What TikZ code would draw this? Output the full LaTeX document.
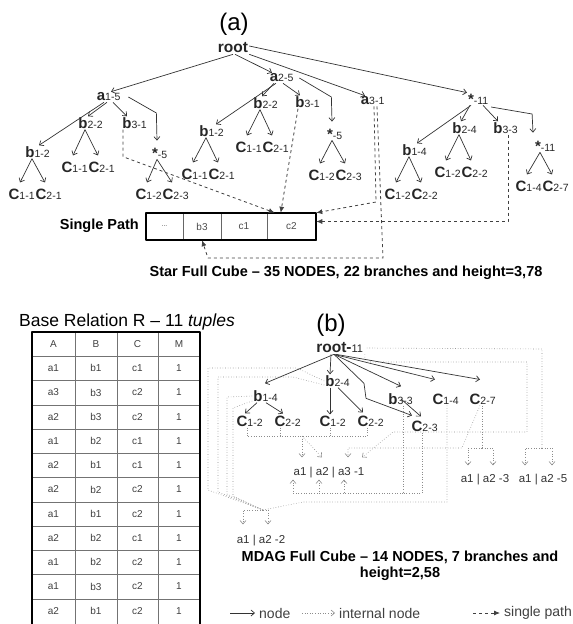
\documentclass[tikz,border=0pt]{standalone}
\usepackage{fontspec}
\setmainfont{Liberation Sans}
\usetikzlibrary{arrows.meta}
\newcommand{\fsz}[1]{\fontsize{#1}{#1}\selectfont}
\newcommand{\tn}[2]{{\fsz{15}\bfseries #1}\rlap{\fsz{10.5}#2}}

\begin{document}
\begin{tikzpicture}[x=1pt, y=-1pt, line join=round, >={Straight Barb[length=3.5pt,width=6pt]},
    lab/.style={inner sep=1pt, text=black!85},
    leaf/.style={inner sep=1pt, font=\fsz{11.5}, text=black!80},
    arr/.style={->, draw=black!80, line width=0.7pt},
    dotl/.style={draw=black!45, dotted, line width=0.6pt},
    intl/.style={dotl, ->},
    spath/.style={-{Latex[length=6pt,width=5pt]}, draw=black!75, dashed, line width=0.8pt},
    cell/.style={draw=black!60, line width=0.5pt, minimum height=27pt, inner sep=0pt, font=\fsz{10}, text=black!70},
    tab/.style={inner sep=0pt, font=\fsz{10}, text=black!75},
    capt/.style={inner sep=1pt, font=\fontsize{14.5}{16.5}\selectfont\bfseries},
    lgd/.style={inner sep=1pt, anchor=west, font=\fsz{14}, text=black!75}]
\useasboundingbox (0,0) rectangle (573,624);

% (a) star full cube
\node[font=\fsz{24}] (ta) at (234,24) {(a)};
\node[lab, font=\fsz{15.5}\bfseries] (root) at (233,48) {root};
\node[lab] (a1) at (101,97) {\tn{a}{1-5}};
\node[lab] (a2) at (274,78) {\tn{a}{2-5}};
\node[lab] (a3) at (365,101) {\tn{a}{3-1}};
\node[lab] (s1) at (471,99) {\tn{*}{-11}};
\node[lab] (a1b1) at (30,152) {\tn{b}{1-2}};
\node[lab] (a1b2) at (83,123) {\tn{b}{2-2}};
\node[lab] (a1b3) at (127,123) {\tn{b}{3-1}};
\node[lab] (a1s) at (155,153) {\tn{*}{-5}};
\node[lab] (a2b1) at (204,131) {\tn{b}{1-2}};
\node[lab] (a2b2) at (258,103) {\tn{b}{2-2}};
\node[lab] (a2b3) at (300,102) {\tn{b}{3-1}};
\node[lab] (a2s) at (330,134) {\tn{*}{-5}};
\node[lab] (s1b1) at (407,150) {\tn{b}{1-4}};
\node[lab] (s1b2) at (457,128) {\tn{b}{2-4}};
\node[lab] (s1b3) at (498,128) {\tn{b}{3-3}};
\node[lab] (s1s) at (538,146) {\tn{*}{-11}};

\draw[arr] (root.south) -- ([xshift=10pt]a1.north);
\draw[arr] ([xshift=2pt]root.south) -- ([xshift=-2pt]a2.north);
\draw[arr] (root.south east) -- (a3.north);
\draw[arr] ([yshift=2pt]root.east) -- ([xshift=-4pt]s1.north);

\draw[arr] ([xshift=3pt]a1.south) -- ([xshift=9pt]a1b1.north);
\draw[arr] ([xshift=6pt]a1.south) -- ([xshift=5pt]a1b2.north);
\draw[arr] ([xshift=12pt]a1.south) -- (a1b3.north);
\draw[arr] ([xshift=22pt]a1.east) -- ++(28,16) -- ([xshift=2pt,yshift=6pt]a1s.north);
\draw[arr] ([xshift=2pt]a2.south) -- ([xshift=12pt]a2b1.north);
\draw[arr] (a2.south) -- ([xshift=4pt]a2b2.north);
\draw[arr] ([xshift=9pt]a2.south) -- (a2b3.north);
\draw[arr] ([xshift=20pt]a2.east) -- ++(32,19) -- ([xshift=2pt,yshift=6pt]a2s.north);
\draw[arr] (s1.south) -- ([xshift=10pt]s1b1.north);
\draw[arr] ([xshift=-1pt]s1.south) -- ([xshift=4pt]s1b2.north);
\draw[arr] ([xshift=12pt]s1.south) -- (s1b3.north);
\draw[arr] ([xshift=16pt,yshift=-8pt]s1.east) -- ++(41,7) -- ([xshift=-5pt,yshift=7pt]s1s.north);

\foreach \p/\x/\y/\u/\v in {a1b1/14/194/1-1/2-1, a1b2/67/167/1-1/2-1, a1s/141/194/1-2/2-3,
    a2b1/187/174/1-1/2-1, a2b2/241/147/1-1/2-1, a2s/314/175/1-2/2-3,
    s1b1/390/194/1-2/2-2, s1b2/440/172/1-2/2-2, s1s/521/186/1-4/2-7} {
  \node[lab] (\p-1) at (\x,\y) {\tn{C}{\u}};
  \node[lab] (\p-2) at (\x+27,\y) {\tn{C}{\v}};
  \draw[arr] ([xshift=2pt]\p.south) -- ([xshift=6pt,yshift=5pt]\p-1.north);
  \draw[arr] ([xshift=2pt]\p.south) -- ([xshift=4pt,yshift=5pt]\p-2.north);
}

\node[cell, minimum width=37pt] (p1) at (164.5,226.5) {\fsz{7}...};
\node[cell, minimum width=38pt] (p2) at (202,226.5) {b3};
\node[cell, minimum width=46pt] (p3) at (244,226.5) {c1};
\node[cell, minimum width=49pt] (p4) at (291.5,226.5) {c2};
\draw[line width=2pt] (p1.north west) rectangle (p4.south east);
\node[capt, anchor=east] (sp) at (140,226) {Single Path};
\node[capt] (scap) at (346,273) {Star Full Cube – 35 NODES, 22 branches and height=3,78};

\draw[spath] ([xshift=-4pt]a1b3.south) -- ++(0,27) -- ([xshift=8pt]p4.north west);
\draw[spath] ([xshift=-2pt]a2b3.south) -- ([xshift=14pt]p4.north west);
\draw[spath] ([xshift=9pt]a3.south) -- (376,202) -- (p4.north east);
\draw[spath] ([xshift=12pt]a3.south) -- (383,258) -- (208,258) -- (p2.south);
\draw[spath] ([xshift=10pt]s1b3.south) -- (508,221.5) -- ([yshift=5pt]p4.east);

% base relation
\node[font=\fsz{17.5}] (ttl) at (127,322) {Base Relation R – 11 \textit{tuples}};
\foreach \yy in {1,...,11}
  \draw[black!55, line width=0.5pt] (32,332+24.25*\yy) -- (200,332+24.25*\yy);
\foreach \xx in {75,117,158}
  \draw[black!55, line width=0.5pt] (\xx,332) -- (\xx,626);
\draw[line width=2.2pt] (32,332) rectangle (200,627);
\foreach \a/\b/\c/\m [count=\i from 0] in {A/B/C/M, a1/b1/c1/1, a3/b3/c2/1, a2/b3/c2/1,
    a1/b2/c1/1, a2/b1/c1/1, a2/b2/c2/1, a1/b1/c2/1, a2/b2/c1/1, a1/b2/c2/1, a1/b3/c2/1, a2/b1/c2/1} {
  \node[tab] (r\i-a) at (53.5,344+24.25*\i) {\a};
  \node[tab] (r\i-b) at (96,344+24.25*\i) {\b};
  \node[tab] (r\i-c) at (137.5,344+24.25*\i) {\c};
  \node[tab] (r\i-m) at (179,344+24.25*\i) {\m};
}

% (b) MDAG full cube
\node[font=\fsz{24}] (tb) at (331,325) {(b)};
\node[lab] (broot) at (334,348) {{\fsz{15.5}\bfseries root-}\rlap{\fsz{11}11}};
\node[lab] (bb1) at (258,396) {\tn{b}{1-4}};
\node[lab] (bb2) at (330,381) {\tn{b}{2-4}};
\node[lab] (bb3) at (393,399) {\tn{b}{3-3}};
\node[lab] (bc1) at (438,399) {\tn{C}{1-4}};
\node[lab] (bc2) at (475,399) {\tn{C}{2-7}};
\node[lab] (bb1c1) at (242,421) {\tn{C}{1-2}};
\node[lab] (bb1c2) at (280,421) {\tn{C}{2-2}};
\node[lab] (bb2c1) at (325,421) {\tn{C}{1-2}};
\node[lab] (bb2c2) at (363,421) {\tn{C}{2-2}};
\node[lab] (bc23) at (417,426) {\tn{C}{2-3}};
\node[leaf] (la) at (329,473) {a1 | a2 | a3 -1};
\node[leaf] (lb) at (485,480) {a1 | a2 -3};
\node[leaf] (lc) at (543,480) {a1 | a2 -5};
\node[leaf] (ld) at (261,541) {a1 | a2 -2};

\draw[arr] (broot.south) -- ([xshift=7pt,yshift=6pt]bb1.north);
\draw[arr] ([xshift=-3pt]broot.south) -- (bb2.north);
\draw[arr] (broot.south) -- ([xshift=8pt,yshift=6pt]bb3.north);
\draw[arr] (broot.south) -- ([xshift=-3pt,yshift=13pt]bc1.north);
\draw[arr] ([xshift=2pt]broot.south) -- ([xshift=5pt,yshift=13pt]bc2.north);
\draw[arr] (broot.south) -- ++(30,29) -- ++(2,15) -- ([xshift=-5pt,yshift=4pt]bc23.north);
\draw[arr] ([xshift=-1pt]bb1.south) -- ([xshift=3pt,yshift=1pt]bb1c1.north);
\draw[arr] ([xshift=8pt]bb1.south) -- ([xshift=3pt,yshift=1pt]bb1c2.north);
\draw[arr] (bb2.south) -- (bb2.south |- bb2c1.north);
\draw[arr] ([xshift=8pt]bb2.south) -- ([yshift=2pt]bb2c2.north);
\draw[arr] ([xshift=8pt]bb3.center) -- ([xshift=4pt,yshift=3pt]bc23.north);

% internal nodes
\coordinate (k1) at (302,436);
\coordinate (k6) at (403,493);
\coordinate (j2) at (263,510);
\draw[dotl] ([xshift=5pt]bb1c1.south) -- ++(0,9) -| ([xshift=4pt]bb2c2.south);
\draw[dotl] (bb1c2.south) -- ++(0,9);
\draw[dotl] ([xshift=5pt]bb2c1.south) -- ++(0,9);
\draw[intl] (k1) -- ([xshift=-27pt,yshift=9pt]la.north);
\draw[intl] (k1) -- ([xshift=-7pt,yshift=9pt]la.north);
\draw[dotl] ([xshift=14pt]broot.east) -- (542,349) -- (542,448) coordinate (k2);
\draw[intl] (k2) -| ([xshift=-18pt,yshift=8pt]lc.north);
\draw[intl] (k2) -| ([xshift=9pt,yshift=8pt]lc.north);
\draw[intl] ([xshift=12pt]broot.south east) |- (527,362) -- (527,432) -- (393,432) -- ([xshift=33pt,yshift=9pt]la.north);
\draw[dotl] ([xshift=7pt]bc2.south) -- (482,448) coordinate (k4);
\draw[intl] (k4) -| ([xshift=-17pt,yshift=8pt]lb.north);
\draw[intl] (k4) -| ([xshift=8pt,yshift=8pt]lb.north);
\draw[intl] ([xshift=5pt]bc2.south) -- (462,448) -- (348,448) -- ([xshift=19pt,yshift=9pt]la.north);
\draw[dotl] ([xshift=10pt]bb3.south) -- (k6);
\draw[dotl] ([xshift=5pt]bc23.south) |- (k6);
\foreach \dx in {-36,-10,15}
  \draw[intl] (k6) -| ([xshift=\dx pt]la.south);
\draw[dotl] ([xshift=9pt]bc1.south) |- (303,502) -- (j2);
\draw[dotl] (bb2.west) -- (297,368) -- (208,368) -- (208,490) -- (j2);
\draw[dotl] ([yshift=-4pt]bb2.west) -- (293,377) -- (218,377) -- (218,492) -- (j2);
\draw[dotl] (bb1.west) -- (227,397) -- (227,494) -- (j2);
\draw[dotl] ([yshift=-5pt]bb1.west) -- (233,408) -- (233,496) -- (j2);
\draw[intl] (j2) -| ([xshift=-18pt,yshift=10pt]ld.north);
\draw[intl] (j2) -| ([xshift=7pt,yshift=10pt]ld.north);

\node[capt, align=center] (mcap) at (400,566) {MDAG Full Cube – 14 NODES, 7 branches and\\height=2,58};

% legend
\node[lgd] (lg1) at (258,613) {node};
\node[lgd] (lg2) at (338,613) {internal node};
\node[lgd] (lg3) at (503,613) {single path};
\draw[arr] ([xshift=-28pt]lg1.west) -- ([xshift=-3pt]lg1.west);
\draw[intl] ([xshift=-36pt]lg2.west) -- ([xshift=-3pt]lg2.west);
\draw[spath] ([xshift=-30pt]lg3.west) -- ([xshift=-3pt]lg3.west);
\end{tikzpicture}
\end{document}
